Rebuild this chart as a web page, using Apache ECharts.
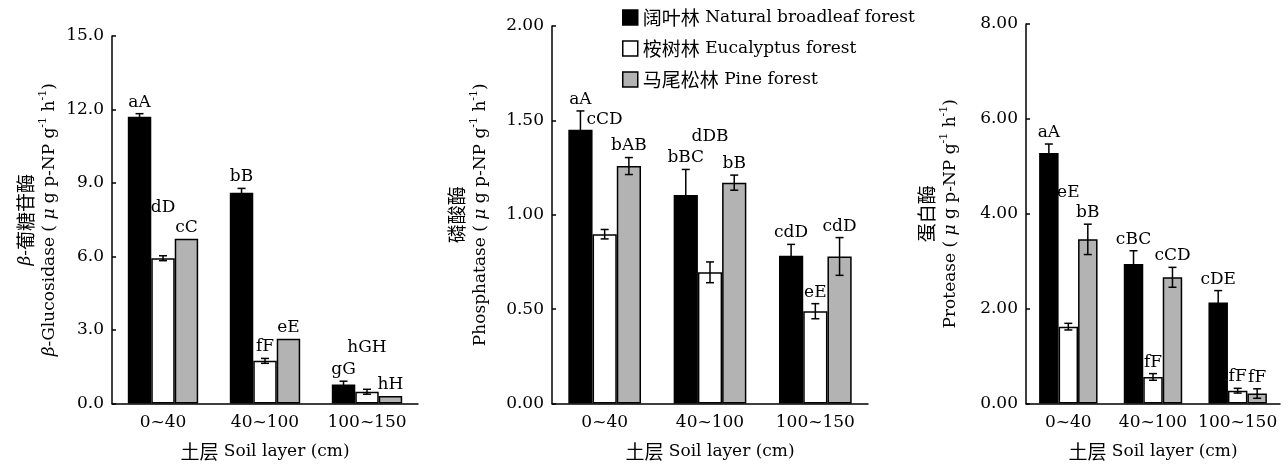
<!DOCTYPE HTML>
<html lang="zh-cn">
<head>
    <meta charset="utf-8">
    <title>土壤酶活性</title>
    <style>
        body { margin: 0; background: #fff; }
        #myChart { width: 1288px; height: 466px; }
    </style>
</head>
<body>
<div id="myChart"></div>
<script src="https://cdn.jsdelivr.net/npm/echarts@6/dist/echarts.min.js"></script>
<script>
    // 数据
    var categories = ['0~40', '40~100', '100~150'];
    var forestsCn = ['阔叶林', '桉树林', '马尾松林'];
    var forestsEn = ['Natural broadleaf forest', 'Eucalyptus forest', 'Pine forest'];

    // β-葡糖苷酶
    var glucBroad = [11.70, 8.60, 0.78];
    var glucBroadErr = [0.13, 0.18, 0.13];
    var glucEuca = [5.93, 1.74, 0.48];
    var glucEucaErr = [0.10, 0.10, 0.10];
    var glucPine = [6.72, 2.64, 0.31];
    var glucPineErr = [0, 0, 0];
    var glucBroadSig = ['aA', 'bB', 'gG'];
    var glucEucaSig = ['dD', 'fF', 'hGH'];
    var glucPineSig = ['cC', 'eE', 'hH'];

    // 磷酸酶
    var phosBroad = [1.45, 1.105, 0.783];
    var phosBroadErr = [0.10, 0.135, 0.06];
    var phosEuca = [0.897, 0.695, 0.489];
    var phosEucaErr = [0.025, 0.055, 0.04];
    var phosPine = [1.258, 1.17, 0.779];
    var phosPineErr = [0.045, 0.04, 0.10];
    var phosBroadSig = ['aA', 'bBC', 'cdD'];
    var phosEucaSig = ['cCD', 'dDB', 'eE'];
    var phosPineSig = ['bAB', 'bB', 'cdD'];

    // 蛋白酶
    var protBroad = [5.28, 2.94, 2.13];
    var protBroadErr = [0.19, 0.28, 0.25];
    var protEuca = [1.62, 0.56, 0.27];
    var protEucaErr = [0.07, 0.07, 0.05];
    var protPine = [3.46, 2.66, 0.21];
    var protPineErr = [0.32, 0.21, 0.10];
    var protBroadSig = ['aA', 'cBC', 'cDE'];
    var protEucaSig = ['eE', 'fF', 'fF'];
    var protPineSig = ['bB', 'cCD', 'fF'];

    var glucTicks = [0, 15, 3];
    var phosTicks = [0, 2, 0.5];
    var protTicks = [0, 8, 2];

    chartFn();
    function chartFn() {
        var myChart = echarts.init(document.getElementById('myChart'));
        var FONT = '"DejaVu Serif", "Noto Sans CJK SC", serif';
        var CJK = '"Noto Sans CJK SC", sans-serif';
        var FS = 17;
        var barFrac = 0.23;
        var colors = ['#000000', '#ffffff', '#b3b3b3'];
        var forests = forestsCn.map(function (c, i) { return c + ' ' + forestsEn[i]; });
        // 标注字母上移（像素），避免与误差线重叠
        var labelLift = {'0-1-0': 37, '0-1-2': 30, '1-1-0': 98, '1-1-1': 114, '2-1-0': 119};
        var richBase = {
            t: {fontFamily: FONT, fontSize: FS, color: '#000', lineHeight: 24},
            c: {fontFamily: CJK, fontSize: 19, color: '#000', lineHeight: 24},
            i: {fontFamily: FONT, fontSize: FS, color: '#000', fontStyle: 'italic', lineHeight: 24},
            s: {fontFamily: FONT, fontSize: 11, color: '#000', verticalAlign: 'top', lineHeight: 24}
        };

        var panels = [
            {vals: [glucBroad, glucEuca, glucPine], errs: [glucBroadErr, glucEucaErr, glucPineErr],
                sig: [glucBroadSig, glucEucaSig, glucPineSig], ticks: glucTicks, dec: 1,
                name: '{i|β}{t|-}{c|葡糖苷酶}\n{i|β}{t|-Glucosidase ( }{i|μ}{t| g p-NP g}{s|-1}{t| h}{s|-1}{t|)}',
                grid: {left: 112, right: 870, top: 36, bottom: 61}, nameGap: 50},
            {vals: [phosBroad, phosEuca, phosPine], errs: [phosBroadErr, phosEucaErr, phosPineErr],
                sig: [phosBroadSig, phosEucaSig, phosPineSig], ticks: phosTicks, dec: 2,
                name: '{c|磷酸酶}\n{t|Phosphatase ( }{i|μ}{t| g p-NP g}{s|-1}{t| h}{s|-1}{t|)}',
                grid: {left: 552, right: 420, top: 26, bottom: 61}, nameGap: 59},
            {vals: [protBroad, protEuca, protPine], errs: [protBroadErr, protEucaErr, protPineErr],
                sig: [protBroadSig, protEucaSig, protPineSig], ticks: protTicks, dec: 2,
                name: '{c|蛋白酶}\n{t|Protease ( }{i|μ}{t| g p-NP g}{s|-1}{t| h}{s|-1}{t|)}',
                grid: {left: 1026, right: 8, top: 24, bottom: 61}, nameGap: 63}
        ];

        var grids = [], xAxes = [], yAxes = [], series = [];
        panels.forEach(function (p, g) {
            grids.push(p.grid);
            xAxes.push({
                type: 'category', gridIndex: g, data: categories,
                name: '{c|土层} {t|Soil layer (cm)}', nameLocation: 'middle', nameGap: 36,
                nameTextStyle: {fontFamily: FONT, fontSize: FS, color: '#000', rich: richBase},
                axisLine: {lineStyle: {color: '#000', width: 1.5}},
                axisTick: {inside: true, length: 4, lineStyle: {color: '#000', width: 1.5}},
                axisLabel: {fontFamily: FONT, fontSize: FS, color: '#000', margin: 11,
                    interval: 0, hideOverlap: false},
                splitLine: {show: false}
            });
            yAxes.push({
                type: 'value', gridIndex: g, min: p.ticks[0], max: p.ticks[1], interval: p.ticks[2],
                name: p.name, nameLocation: 'middle', nameGap: p.nameGap,
                nameTextStyle: {fontFamily: FONT, fontSize: FS, color: '#000', lineHeight: 24, rich: richBase},
                axisLine: {show: true, lineStyle: {color: '#000', width: 1.5}},
                axisTick: {show: true, inside: true, length: 4, lineStyle: {color: '#000', width: 1.5}},
                axisLabel: {fontFamily: FONT, fontSize: FS, color: '#000', margin: 8,
                    formatter: function (v) { return v.toFixed(p.dec); }},
                splitLine: {show: false}
            });
            for (var k = 0; k < 3; k++) {
                series.push({
                    name: forests[k], type: 'bar', xAxisIndex: g, yAxisIndex: g,
                    data: p.vals[k], barWidth: (barFrac * 100) + '%', barGap: '0%',
                    itemStyle: {color: colors[k], borderColor: '#000', borderWidth: 1.5},
                    emphasis: {disabled: true}
                });
            }
            for (var k2 = 0; k2 < 3; k2++) {
                (function (k) {
                    var d = p.vals[k].map(function (v, i) { return [i, v, p.errs[k][i]]; });
                    series.push({
                        type: 'custom', xAxisIndex: g, yAxisIndex: g, z: 10,
                        encode: {x: 0, y: 1},
                        data: d,
                        renderItem: function (params, api) {
                            var i = api.value(0), v = api.value(1), e = api.value(2);
                            var band = api.size([1, 0])[0];
                            var bw = band * barFrac;
                            var x = api.coord([i, v])[0] + (k - 1) * bw;
                            var yTop = api.coord([i, v + e])[1];
                            var yBot = api.coord([i, v - e])[1];
                            var children = [];
                            var ls = {stroke: '#000', lineWidth: 1.5};
                            if (e > 0) {
                                children.push({type: 'line', shape: {x1: x, y1: yTop, x2: x, y2: yBot}, style: ls});
                                children.push({type: 'line', shape: {x1: x - 4, y1: yTop, x2: x + 4, y2: yTop}, style: ls});
                                children.push({type: 'line', shape: {x1: x - 4, y1: yBot, x2: x + 4, y2: yBot}, style: ls});
                            }
                            var lift = labelLift[g + '-' + k + '-' + i] || 0;
                            children.push({
                                type: 'text',
                                style: {
                                    x: x, y: yTop - 3 - lift, text: p.sig[k][i],
                                    align: 'center', verticalAlign: 'bottom',
                                    fontFamily: FONT, fontSize: FS, fill: '#000'
                                }
                            });
                            return {type: 'group', children: children};
                        }
                    });
                })(k2);
            }
        });

        var option = {
            animation: false,
            textStyle: {fontFamily: FONT},
            legend: {
                data: forests, orient: 'vertical', left: 622, top: 8, padding: 0,
                itemWidth: 15, itemHeight: 15, itemGap: 12,
                icon: 'rect',
                itemStyle: {borderColor: '#000', borderWidth: 1.5},
                formatter: function (name) {
                    var i = forests.indexOf(name);
                    return '{c|' + forestsCn[i] + '} {t|' + forestsEn[i] + '}';
                },
                textStyle: {
                    fontFamily: FONT, fontSize: FS, color: '#000',
                    rich: {
                        c: {fontFamily: CJK, fontSize: 19, color: '#000', lineHeight: 17},
                        t: {fontFamily: FONT, fontSize: FS, color: '#000', lineHeight: 17}
                    }
                }
            },
            grid: grids,
            xAxis: xAxes,
            yAxis: yAxes,
            series: series
        };
        myChart.setOption(option);
        window.addEventListener('resize', function () {
            myChart.resize();
        });
    }
</script>
</body>
</html>
